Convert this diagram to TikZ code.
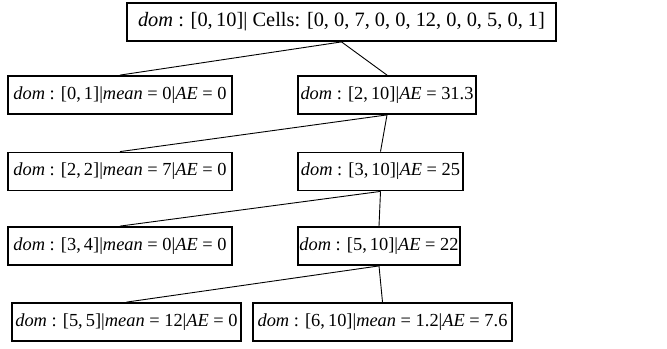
\documentclass[tikz,border=0pt]{standalone}
\usepackage{fontspec}
\setmainfont{Liberation Serif}
\newcommand{\mi}[1]{\textit{#1}}
\begin{document}
\begin{tikzpicture}[x=0.5pt,y=-0.5pt,
  box/.style={draw, line width=0.9pt, inner sep=0pt, minimum height=19pt, font=\fontsize{9.2}{11}\selectfont},
  rootbox/.style={box, font=\fontsize{10.2}{12}\selectfont},
  edge/.style={line width=0.45pt}]
\useasboundingbox (0,0) rectangle (667,348);
\node[rootbox, minimum width=214.5pt] (root) at (341.5,22) {\mi{dom} : [0,\,10]| Cells: [0, 0, 7, 0, 0, 12, 0, 0, 5, 0, 1]};
\node[box, minimum width=112pt] (n01) at (120,95) {\mi{dom} : [0,\,1]|\mi{mean} = 0|\mi{AE} = 0};
\node[box, minimum width=89pt] (n210) at (387,95) {\mi{dom} : [2,\,10]|\mi{AE} = 31.3};
\node[box, minimum width=112pt] (n22) at (120,171.5) {\mi{dom} : [2,\,2]|\mi{mean} = 7|\mi{AE} = 0};
\node[box, minimum width=82.5pt] (n310) at (380.5,171.5) {\mi{dom} : [3,\,10]|\mi{AE} = 25};
\node[box, minimum width=112pt] (n34) at (120,246) {\mi{dom} : [3,\,4]|\mi{mean} = 0|\mi{AE} = 0};
\node[box, minimum width=81pt] (n510) at (379,246) {\mi{dom} : [5,\,10]|\mi{AE} = 22};
\node[box, minimum width=114.5pt] (n55) at (126.5,322) {\mi{dom} : [5,\,5]|\mi{mean} = 12|\mi{AE} = 0};
\node[box, minimum width=129.5pt] (n610) at (382.5,322) {\mi{dom} : [6,\,10]|\mi{mean} = 1.2|\mi{AE} = 7.6};
\draw[edge] (root.south) -- (n01.north);
\draw[edge] (root.south) -- (n210.north);
\draw[edge] (n210.south) -- (n22.north);
\draw[edge] (n210.south) -- (n310.north);
\draw[edge] (n310.south) -- (n34.north);
\draw[edge] (n310.south) -- (n510.north);
\draw[edge] (n510.south) -- (n55.north);
\draw[edge] (n510.south) -- (n610.north);
\end{tikzpicture}
\end{document}
